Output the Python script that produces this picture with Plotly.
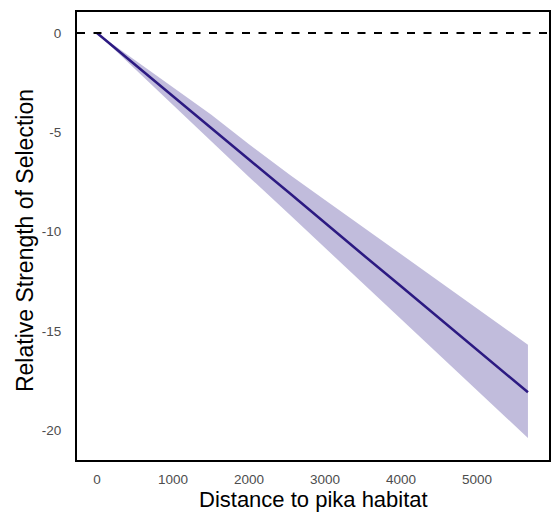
import plotly.graph_objects as go

distance = [0, 500, 1000, 1500, 2000, 2540, 3000, 3500, 4000, 4500, 5000, 5670]
estimate = [0.0, -1.6, -3.18, -4.78, -6.37, -8.08, -9.58, -11.17, -12.76, -14.36, -15.96, -18.1]
upper = [0.0, -1.38, -2.75, -4.1, -5.6, -7.15, -8.41, -9.77, -11.14, -12.5, -13.87, -15.7]
lower = [0.0, -1.82, -3.6, -5.45, -7.25, -9.17, -10.82, -12.62, -14.41, -16.2, -18.0, -20.4]

x_ticks = [0, 1000, 2000, 3000, 4000, 5000]
y_ticks = [0, -5, -10, -15, -20]

x_title = "Distance to pika habitat"
y_title = "Relative Strength of Selection"

fig = go.Figure()
fig.add_trace(go.Scatter(x=distance, y=upper, mode="lines", line=dict(width=0),
                         showlegend=False, hoverinfo="skip"))
fig.add_trace(go.Scatter(x=distance, y=lower, mode="lines", line=dict(width=0),
                         fill="tonexty", fillcolor="rgba(117,107,177,0.45)",
                         showlegend=False, hoverinfo="skip"))
fig.add_trace(go.Scatter(x=distance, y=estimate, mode="lines",
                         line=dict(color="#2c1a82", width=2.5), showlegend=False))

fig.add_hline(y=0, line=dict(color="black", width=2, dash="8px,8.5px"))

fig.update_layout(
    width=553, height=512,
    margin=dict(l=77, r=4, t=12, b=52),
    paper_bgcolor="white", plot_bgcolor="white",
    font=dict(family="Liberation Sans, Arial, sans-serif"),
    xaxis=dict(range=[-263, 5947], tickvals=x_ticks, ticktext=[str(v) for v in x_ticks],
               showgrid=False, zeroline=False, showline=True, mirror=True,
               linecolor="black", linewidth=2.2, automargin=False,
               ticks="outside", ticklen=6, tickcolor="rgba(0,0,0,0)",
               tickfont=dict(size=13.5, color="#4d4d4d")),
    yaxis=dict(range=[-21.51, 1.06], tickvals=y_ticks, ticktext=[str(v) for v in y_ticks],
               showgrid=False, zeroline=False, showline=True, mirror=True,
               linecolor="black", linewidth=2.2, automargin=False,
               ticks="outside", ticklen=11, tickcolor="rgba(0,0,0,0)",
               tickfont=dict(size=13.5, color="#4d4d4d")),
    annotations=[
        dict(text=x_title, xref="paper", yref="paper", x=0.5, y=-0.089,
             xanchor="center", yanchor="middle", showarrow=False,
             font=dict(size=22, color="black")),
        dict(text=y_title, xref="paper", yref="paper", x=-0.109, y=0.49,
             xanchor="center", yanchor="middle", textangle=-90, showarrow=False,
             font=dict(size=23, color="black")),
    ],
)

fig.write_html("out.html", config={"displayModeBar": False},
               post_script="document.body.style.margin='0';document.body.style.padding='0';")
